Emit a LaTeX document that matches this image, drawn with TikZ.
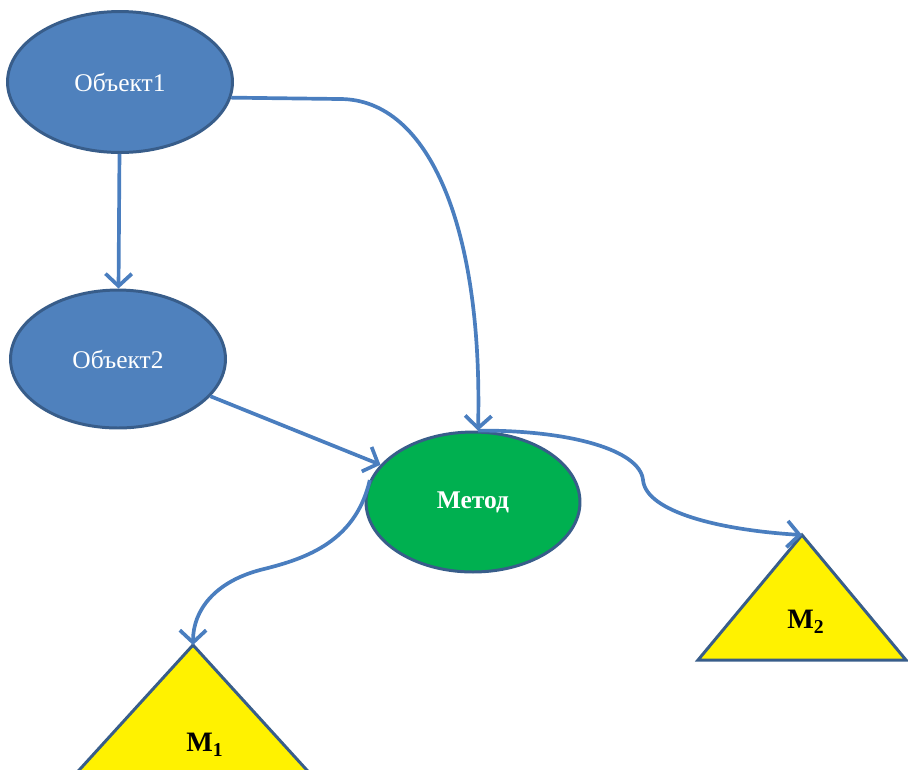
\documentclass[tikz,border=0pt]{standalone}
\usepackage{fontspec}
\setmainfont{Liberation Serif}
\usetikzlibrary{shapes.geometric,arrows.meta}

\definecolor{objblue}{RGB}{79,129,189}
\definecolor{rimblue}{RGB}{56,93,138}
\definecolor{metgreen}{RGB}{0,176,80}
\definecolor{arrblue}{RGB}{74,126,191}

\tikzset{
	obj/.style={draw=rimblue, fill=objblue, ellipse, line width=1.7pt, text=white, font=\fontsize{14.5}{16}\selectfont},
	meth/.style={draw=rimblue, fill=metgreen, ellipse, line width=1.7pt, text=white, font=\bfseries\fontsize{14.5}{16}\selectfont},
	tri/.style={draw=rimblue, fill=yellow, line width=1.7pt, line join=miter},
	lab/.style={font=\bfseries\fontsize{16}{18}\selectfont},
	arr/.style={draw=arrblue, line width=2.1pt, -{Straight Barb[length=7pt,width=15pt]}}
}

\begin{document}
\begin{tikzpicture}[x=0.02cm, y=-0.02cm]
	\useasboundingbox (0,0) rectangle (908,769);
	\node[obj, minimum width=4.5cm, minimum height=2.82cm] (obj1) at (120,82) {Объект1};
	\node[obj, minimum width=4.3cm, minimum height=2.76cm] (obj2) at (118,359) {Объект2};
	\node[meth, minimum width=4.28cm, minimum height=2.8cm] (metod) at (473,502) {Метод};
	
	\coordinate (m1) at (193,645);
	\coordinate (m2) at (802,535);
	\begin{scope}
		\clip (0,0) rectangle (908,769);
		\draw[tri] (m1) -- (61,790) -- (325,790) -- cycle;
		\draw[tri] (m2) -- (698,660) -- (906,660) -- cycle;
	\end{scope}
	\node[lab] (m1lab) at (205,745) {М$_\mathbf{1}$};
	\node[lab] (m2lab) at (806,622) {М$_\mathbf{2}$};
	
	\draw[arr] (obj1) -- (obj2);
	\draw[arr] (obj1.-8) -- (340,99) .. controls (430,99) and (483,230) .. (metod.86);
	\draw[arr] (obj2) -- (metod);
	\draw[arr] (metod.86) .. controls (570,430) and (640,450) .. (643,480)
		.. controls (646,512) and (720,530) .. (m2);
	\draw[arr] (metod.168) .. controls (355,545) and (300,560) .. (260,570)
		.. controls (215,582) and (193,610) .. (m1);
\end{tikzpicture}
\end{document}
